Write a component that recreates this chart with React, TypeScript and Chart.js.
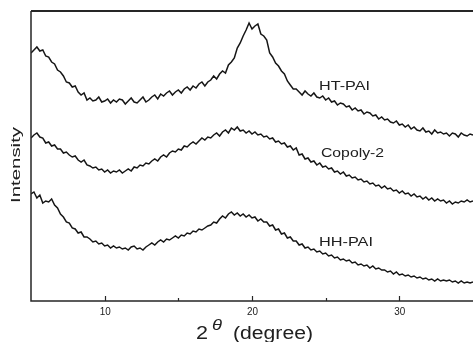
import React, { useEffect, useRef } from "react";
import { Chart, registerables } from "chart.js";

Chart.register(...registerables);

// 2θ sampling positions (degrees)
const angles = [
  5.0, 5.2, 5.4, 5.6, 5.8, 6.0, 6.2, 6.4, 6.6, 6.8,
  7.0, 7.2, 7.4, 7.6, 7.8, 8.0, 8.2, 8.4, 8.6, 8.8,
  9.0, 9.2, 9.4, 9.6, 9.8, 10.0, 10.2, 10.4, 10.6, 10.8,
  11.0, 11.2, 11.4, 11.6, 11.8, 12.0, 12.2, 12.4, 12.6, 12.8,
  13.0, 13.2, 13.4, 13.6, 13.8, 14.0, 14.2, 14.4, 14.6, 14.8,
  15.0, 15.2, 15.4, 15.6, 15.8, 16.0, 16.2, 16.4, 16.6, 16.8,
  17.0, 17.2, 17.4, 17.6, 17.8, 18.0, 18.2, 18.4, 18.6, 18.8,
  19.0, 19.2, 19.4, 19.6, 19.8, 20.0, 20.2, 20.4, 20.6, 20.8,
  21.0, 21.2, 21.4, 21.6, 21.8, 22.0, 22.2, 22.4, 22.6, 22.8,
  23.0, 23.2, 23.4, 23.6, 23.8, 24.0, 24.2, 24.4, 24.6, 24.8,
  25.0, 25.2, 25.4, 25.6, 25.8, 26.0, 26.2, 26.4, 26.6, 26.8,
  27.0, 27.2, 27.4, 27.6, 27.8, 28.0, 28.2, 28.4, 28.6, 28.8,
  29.0, 29.2, 29.4, 29.6, 29.8, 30.0, 30.2, 30.4, 30.6, 30.8,
  31.0, 31.2, 31.4, 31.6, 31.8, 32.0, 32.2, 32.4, 32.6, 32.8,
  33.0, 33.2, 33.4, 33.6, 33.8, 34.0, 34.2, 34.4, 34.6, 34.8,
  35.0,
];

// Intensity (arbitrary units, curves offset vertically as in the figure)
const htPai = [
  248, 251, 254, 250, 251, 245, 244, 239, 237, 231,
  229, 225, 219, 218, 214, 215, 209, 206, 208, 201,
  203, 200, 201, 204, 199, 200, 202, 198, 201, 199,
  202, 201, 197, 200, 203, 199, 198, 201, 204, 199,
  201, 204, 206, 202, 207, 205, 208, 210, 206, 209,
  211, 208, 212, 214, 211, 215, 213, 217, 219, 215,
  219, 221, 225, 222, 227, 230, 228, 236, 239, 243,
  253, 258, 265, 271, 278, 272, 275, 277, 267, 265,
  261, 248, 244, 238, 235, 230, 227, 220, 216, 212,
  212, 209, 206, 210, 207, 205, 208, 204, 203, 205,
  201, 203, 199, 200, 196, 198, 197, 194, 195, 191,
  193, 190, 191, 187, 189, 188, 185, 186, 182, 184,
  181, 182, 179, 178, 180, 176, 177, 174, 176, 172,
  174, 171, 170, 173, 169, 170, 167, 171, 168, 169,
  167, 168, 165, 168, 167, 164, 168, 166, 165, 167,
  166,
];

const copoly2 = [
  163, 166, 168, 164, 163, 158, 159, 155, 156, 152,
  152, 148, 149, 146, 144, 145, 141, 139, 141, 136,
  135, 133, 134, 131, 132, 129, 131, 128, 130, 129,
  131, 128, 130, 132, 130, 134, 133, 136, 135, 138,
  137, 140, 142, 140, 144, 146, 144, 148, 150, 149,
  152, 151, 155, 154, 157, 159, 157, 160, 163, 161,
  164, 163, 166, 168, 165, 169, 171, 168, 173, 171,
  174, 170, 171, 168, 170, 167, 169, 166, 167, 164,
  165, 162, 163, 159, 160, 157, 158, 154, 155, 151,
  153, 146, 147, 142, 143, 139, 140, 136, 138, 134,
  135, 132, 133, 129, 130, 127, 129, 125, 126, 123,
  124, 121, 122, 119, 120, 117, 118, 115, 116, 113,
  115, 112, 113, 110, 111, 108, 110, 107, 108, 105,
  107, 104, 105, 102, 104, 101, 103, 100, 102, 100,
  101, 98, 100, 97, 99, 98, 100, 99, 101, 99,
  100,
];

const hhPai = [
  107, 109, 103, 106, 98, 100, 99, 102, 96, 93,
  87, 84, 79, 78, 73, 72, 68, 69, 64, 64,
  62, 59, 60, 57, 58, 55, 56, 53, 55, 53,
  54, 52, 53, 51, 54, 55, 52, 53, 51, 54,
  56, 58, 56, 59, 61, 59, 62, 61, 63, 65,
  63, 66, 65, 68, 67, 70, 69, 72, 71, 73,
  75, 76, 79, 78, 82, 85, 83, 87, 89, 86,
  88, 85, 87, 84, 86, 83, 84, 80, 82, 79,
  79, 75, 76, 71, 72, 67, 68, 63, 64, 60,
  60, 56, 57, 53, 54, 51, 52, 49, 50, 47,
  48, 45, 46, 43, 44, 41, 42, 40, 41, 38,
  39, 36, 37, 35, 36, 33, 35, 32, 33, 31,
  31, 29, 30, 27, 29, 26, 27, 25, 26, 24,
  25, 23, 24, 22, 23, 21, 22, 20, 22, 20,
  21, 20, 21, 19, 20, 18, 20, 18, 19, 18,
  19,
];

const seriesNames = ["HT-PAI", "Copoly-2", "HH-PAI"];
const majorTicks = [10, 20, 30];
const minorTicks = [15, 25];
const tickLabels = ["10", "20", "30"];
const xMin = 5;
const xMax = 35;
const yMin = 0;
const yMax = 290;

const FONT = '"Liberation Sans", Arial, Helvetica, sans-serif';
const INK = "#161616";

function stretchedText(
  ctx: CanvasRenderingContext2D,
  text: string,
  x: number,
  baseline: number,
  font: string,
  width: number,
  align: "left" | "center" = "left"
) {
  ctx.save();
  ctx.font = font;
  ctx.textAlign = "left";
  ctx.textBaseline = "alphabetic";
  const w = ctx.measureText(text).width || 1;
  const sx = width / w;
  const startX = align === "center" ? x - width / 2 : x;
  ctx.translate(startX, baseline);
  ctx.scale(sx, 1);
  ctx.fillText(text, 0, 0);
  ctx.restore();
}

const decorPlugin = {
  id: "decor",
  afterDraw(chart: any) {
    const { ctx, chartArea: a, scales } = chart;
    const xs = scales.x;
    ctx.save();
    ctx.fillStyle = "#202020";
    ctx.strokeStyle = "#262626";

    // frame: top, left, bottom
    ctx.lineWidth = 1.8;
    ctx.beginPath();
    ctx.moveTo(a.left, a.top);
    ctx.lineTo(a.right, a.top);
    ctx.stroke();
    ctx.lineWidth = 1.5;
    ctx.beginPath();
    ctx.moveTo(a.left, a.top);
    ctx.lineTo(a.left, a.bottom);
    ctx.lineTo(a.right, a.bottom);
    ctx.stroke();

    // inward tick marks
    ctx.lineWidth = 1.2;
    ctx.beginPath();
    majorTicks.forEach((v) => {
      const px = Math.round(xs.getPixelForValue(v)) + 0.5;
      ctx.moveTo(px, a.bottom);
      ctx.lineTo(px, a.bottom - 5);
    });
    minorTicks.forEach((v) => {
      const px = Math.round(xs.getPixelForValue(v)) + 0.5;
      ctx.moveTo(px, a.bottom);
      ctx.lineTo(px, a.bottom - 3);
    });
    ctx.stroke();

    // tick labels
    majorTicks.forEach((v, i) => {
      const px = xs.getPixelForValue(v);
      stretchedText(ctx, tickLabels[i], px + 0.5, a.bottom + 14, `10px ${FONT}`, 11, "center");
    });

    // x axis title: 2θ (degree)
    stretchedText(ctx, "2", 196, 339, `18px ${FONT}`, 12);
    stretchedText(ctx, "θ", 212, 330, `italic 15px ${FONT}`, 10);
    stretchedText(ctx, "(degree)", 233, 339, `18px ${FONT}`, 80);

    // y axis title
    ctx.save();
    ctx.translate(19.5, 203);
    ctx.rotate(-Math.PI / 2);
    stretchedText(ctx, "Intensity", 0, 0, `13px ${FONT}`, 76);
    ctx.restore();

    // curve labels
    stretchedText(ctx, seriesNames[0], 319, 90, `13px ${FONT}`, 51);
    stretchedText(ctx, seriesNames[1], 321, 157, `13px ${FONT}`, 63);
    stretchedText(ctx, seriesNames[2], 319, 246, `13px ${FONT}`, 54);

    ctx.restore();
  },
};

export default function App() {
  const canvasRef = useRef<HTMLCanvasElement | null>(null);

  useEffect(() => {
    const canvas = canvasRef.current;
    if (!canvas) return;
    const mk = (vals: number[]) => angles.map((x, i) => ({ x, y: vals[i] }));
    const lineStyle = {
      borderColor: INK,
      borderWidth: 1.5,
      pointRadius: 0,
      tension: 0,
      fill: false,
    };
    const chart = new Chart(canvas, {
      type: "line",
      data: {
        datasets: [
          { label: seriesNames[0], data: mk(htPai), ...lineStyle },
          { label: seriesNames[1], data: mk(copoly2), ...lineStyle },
          { label: seriesNames[2], data: mk(hhPai), ...lineStyle },
        ],
      },
      options: {
        responsive: false,
        animation: false,
        devicePixelRatio: 1,
        layout: { padding: { left: 31, top: 11, right: 0, bottom: 41 } },
        plugins: {
          legend: { display: false },
          tooltip: { enabled: false },
          title: { display: false },
        },
        scales: {
          x: { type: "linear", min: xMin, max: xMax, display: false },
          y: { type: "linear", min: yMin, max: yMax, display: false },
        },
      },
      plugins: [decorPlugin],
    });
    return () => chart.destroy();
  }, []);

  return (
    <div style={{ position: "fixed", left: 0, top: 0, width: 473, height: 342, background: "#fff" }}>
      <canvas ref={canvasRef} width={473} height={342} style={{ display: "block", width: 473, height: 342 }} />
    </div>
  );
}
